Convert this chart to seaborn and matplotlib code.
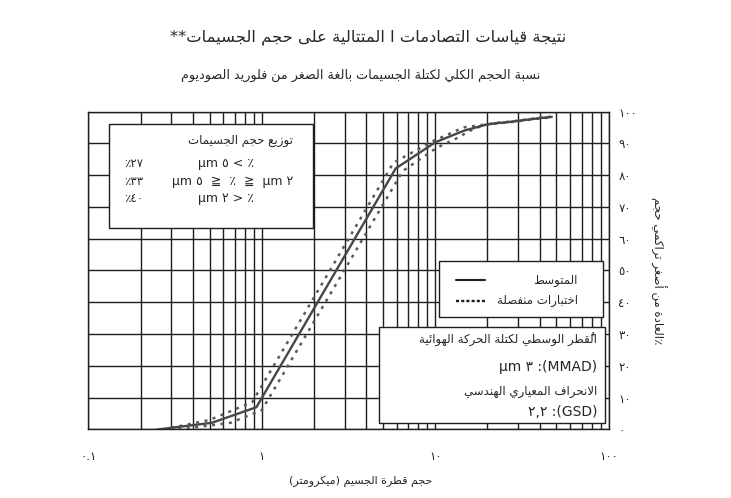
import numpy as np
import matplotlib
matplotlib.use('Agg')
import matplotlib.pyplot as plt
import matplotlib.ticker as mticker
from matplotlib.patches import Rectangle
import seaborn as sns

# datos
size_mean = [0.25, 0.515, 0.93, 5.92, 10.0, 14.7, 19.5, 22.2, 25.7, 29.6, 34.8, 40.0, 47.0]
pct_mean = [0.0, 2.1, 7.0, 82.1, 90.3, 94.0, 95.8, 96.3, 96.6, 97.0, 97.5, 97.9, 98.3]

size_test_a = [0.30, 0.50, 0.88, 5.74, 9.8, 14.6, 19.5, 22.2, 25.7, 29.6, 34.8, 40.0, 47.0]
pct_test_a = [0.5, 3.0, 8.6, 83.9, 90.8, 95.0, 95.9, 96.4, 96.7, 97.1, 97.6, 98.0, 98.4]

size_test_b = [0.33, 0.66, 1.0, 6.5, 10.2, 13.2, 16.7, 19.5, 22.2, 25.7, 29.6, 34.8, 40.0, 47.0]
pct_test_b = [0.0, 2.1, 6.1, 81.3, 88.6, 91.5, 94.6, 95.8, 96.2, 96.5, 96.9, 97.4, 97.8, 98.2]

x_ticks = [0.1, 1, 10, 100]
x_labels = ['٠.١', '١', '١٠', '١٠٠']
y_ticks = list(range(0, 101, 10))
y_labels = ['٠', '١٠', '٢٠', '٣٠', '٤٠', '٥٠', '٦٠', '٧٠', '٨٠', '٩٠', '١٠٠']

dist_pct = ['٪٢٧', '٪٣٣', '٪٤٠']
dist_range = ['µm ٥ < ٪', 'µm ٥  ≧  ٪  ≧  µm ٢', 'µm ٢ > ٪']

# formas contextuales del arabe (presentation forms B): (base, numero de formas)
FORMS = {
    'ء': (0xFE80, 1), 'آ': (0xFE81, 2), 'أ': (0xFE83, 2), 'ؤ': (0xFE85, 2),
    'إ': (0xFE87, 2), 'ئ': (0xFE89, 4), 'ا': (0xFE8D, 2), 'ب': (0xFE8F, 4),
    'ة': (0xFE93, 2), 'ت': (0xFE95, 4), 'ث': (0xFE99, 4), 'ج': (0xFE9D, 4),
    'ح': (0xFEA1, 4), 'خ': (0xFEA5, 4), 'د': (0xFEA9, 2), 'ذ': (0xFEAB, 2),
    'ر': (0xFEAD, 2), 'ز': (0xFEAF, 2), 'س': (0xFEB1, 4), 'ش': (0xFEB5, 4),
    'ص': (0xFEB9, 4), 'ض': (0xFEBD, 4), 'ط': (0xFEC1, 4), 'ظ': (0xFEC5, 4),
    'ع': (0xFEC9, 4), 'غ': (0xFECD, 4), 'ف': (0xFED1, 4), 'ق': (0xFED5, 4),
    'ك': (0xFED9, 4), 'ل': (0xFEDD, 4), 'م': (0xFEE1, 4), 'ن': (0xFEE5, 4),
    'ه': (0xFEE9, 4), 'و': (0xFEED, 2), 'ى': (0xFEEF, 2), 'ي': (0xFEF1, 4),
}
LAM_ALEF = {'آ': 0xFEF5, 'أ': 0xFEF7, 'إ': 0xFEF9, 'ا': 0xFEFB}


def shape_word(word):
    clusters = []
    for ch in word:
        if 0x064B <= ord(ch) <= 0x0652 and clusters:
            clusters[-1][1] += ch
        else:
            clusters.append([ch, ''])
    out = []
    i = 0
    while i < len(clusters):
        ch, marks = clusters[i]
        prev = out[-1][2] if out else False
        if ch not in FORMS:
            out.append([ch, marks, False])
            i += 1
            continue
        base, n = FORMS[ch]
        joins_prev = prev and n >= 2
        if ch == 'ل' and i + 1 < len(clusters) and clusters[i + 1][0] in LAM_ALEF:
            lig = LAM_ALEF[clusters[i + 1][0]] + (1 if joins_prev else 0)
            out.append([chr(lig), marks + clusters[i + 1][1], False])
            i += 2
            continue
        nxt = clusters[i + 1][0] if i + 1 < len(clusters) else None
        joins_next = n == 4 and nxt in FORMS and FORMS[nxt][1] >= 2
        if joins_prev and joins_next:
            form = 3
        elif joins_prev:
            form = 1
        elif joins_next:
            form = 2
        else:
            form = 0
        out.append([chr(base + form), marks, joins_next])
        i += 1
    return ''.join(c + m for c, m, _ in reversed(out))


def ar(text):
    # orden visual de derecha a izquierda
    return ' '.join(shape_word(w) for w in reversed(text.split(' ')))


def ar_rot(text):
    # etiqueta girada: las palabras de arriba hacia abajo
    return ' '.join(shape_word(w) for w in text.split(' '))


sns.set_style('white')
plt.rcParams['font.family'] = ['DejaVu Sans']

fig = plt.figure(figsize=(7.31, 4.98), dpi=100)
ax = fig.add_axes([0.121, 0.1376, 0.7116, 0.6385])

sns.lineplot(x=size_test_a, y=pct_test_a, ax=ax, sort=False, estimator=None,
             color='#5a5a5a', lw=1.8, zorder=3)
sns.lineplot(x=size_test_b, y=pct_test_b, ax=ax, sort=False, estimator=None,
             color='#5a5a5a', lw=1.8, zorder=3)
sns.lineplot(x=size_mean, y=pct_mean, ax=ax, sort=False, estimator=None,
             color='#474747', lw=1.7, zorder=4)
for ln in ax.lines[:2]:
    ln.set_linestyle((0, (1.2, 2.2)))

ax.set_xscale('log')
ax.set_xlim(0.1, 100)
ax.set_ylim(0, 100)
ax.xaxis.set_minor_locator(mticker.LogLocator(base=10, subs=np.arange(2, 10)))
ax.xaxis.set_minor_formatter(mticker.NullFormatter())
ax.set_xticks(x_ticks)
ax.set_xticklabels(x_labels)
ax.set_yticks(y_ticks)
ax.set_yticklabels(y_labels)
ax.yaxis.tick_right()
ax.tick_params(axis='x', which='both', length=0, pad=15, labelsize=8.5)
ax.tick_params(axis='y', which='both', length=0, pad=7, labelsize=8.5)
ax.grid(True, which='both', axis='x', color='#1e1e1e', lw=1.0)
ax.grid(True, which='major', axis='y', color='#1e1e1e', lw=1.0)
ax.set_axisbelow(True)
for s in ax.spines.values():
    s.set_color('#1e1e1e')
    s.set_linewidth(1.0)
ax.set_xlabel('')
ax.set_ylabel('')

# titulos
fig.text(0.503, 0.925, '**' + ar('نتيجة قياسات التصادمات ا المتتالية على حجم الجسيمات'),
         ha='center', va='center', fontsize=11.8)
fig.text(0.493, 0.848, ar('نسبة الحجم الكلي لكتلة الجسيمات بالغة الصغر من فلوريد الصوديوم'),
         ha='center', va='center', fontsize=9.2)
fig.text(0.493, 0.034, '(' + shape_word('ميكرومتر') + ') ' + ar('حجم قطرة الجسيم'),
         ha='center', va='center', fontsize=8)
fig.text(0.900, 0.457, ar_rot('حجم تراكمي أصغر من العادة') + '٪',
         ha='center', va='center', rotation=-90, fontsize=8.5)

# cuadro de distribucion
ax.add_patch(Rectangle((0.040, 0.634), 0.392, 0.327, transform=ax.transAxes,
                       facecolor='white', edgecolor='#1e1e1e', lw=1.0, zorder=6))
ax.text(0.393, 0.910, ar('توزيع حجم الجسيمات'), transform=ax.transAxes,
        ha='right', va='center', fontsize=8.5, zorder=7)
for yy, xx, p, r in zip([0.837, 0.779, 0.725], [0.2636, 0.277, 0.2636], dist_pct, dist_range):
    ax.text(0.0877, yy, p, transform=ax.transAxes, ha='center', va='center', fontsize=8.5, zorder=7)
    ax.text(xx, yy, r, transform=ax.transAxes, ha='center', va='center', fontsize=9, zorder=7)

# leyenda
ax.add_patch(Rectangle((0.6745, 0.353), 0.3155, 0.178, transform=ax.transAxes,
                       facecolor='white', edgecolor='#1e1e1e', lw=1.0, zorder=6))
ax.plot([0.706, 0.762], [0.470, 0.470], transform=ax.transAxes, color='#1e1e1e', lw=1.5, zorder=7)
ax.plot([0.706, 0.762], [0.405, 0.405], transform=ax.transAxes, color='#1e1e1e', lw=1.7,
        ls=(0, (1.3, 0.9)), zorder=7)
ax.text(0.941, 0.470, ar('المتوسط'), transform=ax.transAxes, ha='right', va='center', fontsize=8.5, zorder=7)
ax.text(0.941, 0.405, ar('اختبارات منفصلة'), transform=ax.transAxes, ha='right', va='center', fontsize=8.5, zorder=7)

# cuadro MMAD / GSD
ax.add_patch(Rectangle((0.5586, 0.0195), 0.4344, 0.3015, transform=ax.transAxes,
                       facecolor='white', edgecolor='#1e1e1e', lw=1.0, zorder=6))
box3 = [ar('القُطر الوسطي لكتلة الحركة الهوائية'), 'µm ٣ :(MMAD)',
        ar('الانحراف المعياري الهندسي'), '٢,٢ :(GSD)']
box3_size = [8.5, 10, 8.5, 10]
for yy, t, fs in zip([0.2815, 0.1975, 0.119, 0.056], box3, box3_size):
    ax.text(0.978, yy, t, transform=ax.transAxes, ha='right', va='center', fontsize=fs, zorder=7)

fig.savefig('out.png', dpi=100)
